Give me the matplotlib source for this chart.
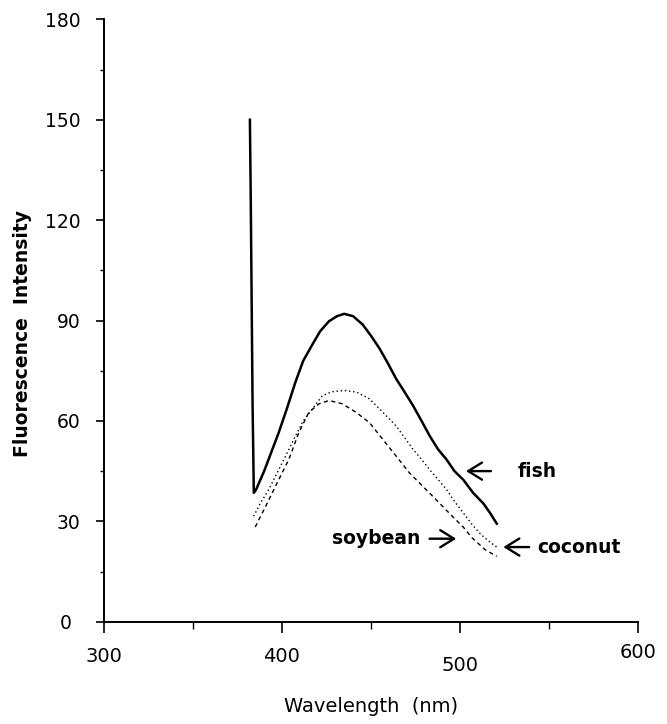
import matplotlib
matplotlib.use("Agg")
import matplotlib.pyplot as plt
from matplotlib.ticker import MultipleLocator
from matplotlib.transforms import ScaledTranslation

# ---- data ----
fish_wl = [382.0, 382.5, 383.0, 383.5, 384.2, 385.5, 390.0, 398.2, 403.0, 407.6,
           412.0, 417.0, 421.5, 426.5, 431.0, 435.0, 440.0, 445.4, 450.0, 454.8,
           459.5, 464.2, 469.0, 473.7, 478.5, 483.1, 487.8, 492.5, 497.0, 502.0,
           507.5, 513.3, 517.0, 520.8]
fish_int = [150, 125, 95, 65, 38.5, 39.5, 45, 56.5, 64, 71.6,
            78, 82.7, 86.8, 89.8, 91.3, 92, 91.3, 88.8, 85.5, 81.7,
            77.3, 72.6, 68.6, 64.6, 60, 55.5, 51.5, 48.5, 45, 42.4,
            38.5, 35.3, 32.5, 29.3]

coconut_wl = [384.1, 388.0, 392.5, 398.2, 403.0, 407.6, 412.0, 417.0, 422.7, 428.0,
              435.0, 442.0, 449.2, 456.7, 464.2, 469.0, 473.7, 478.5, 483.1, 487.8,
              492.5, 497.0, 502.0, 507.0, 512.0, 517.0, 521.5]
coconut_int = [31.5, 35.5, 39.4, 45.4, 50.5, 55.5, 60, 63.5, 67.5, 68.7,
               69.1, 68.6, 66.6, 62.6, 58.5, 55, 51.5, 48.5, 45.4, 42.5,
               39.5, 36, 32.5, 29, 26, 23.8, 22]

soybean_wl = [385.0, 388.0, 390.7, 396.3, 403.9, 409.5, 415.2, 420.8, 426.5, 434.0,
              441.6, 449.2, 456.7, 464.2, 471.8, 479.3, 486.8, 494.3, 501.9, 507.0,
              514.3, 520.8]
soybean_int = [28.3, 31.5, 34.3, 40.4, 48.5, 56.5, 62.6, 65.1, 66.1, 65.1,
               62.6, 59.5, 54.5, 49.5, 44.4, 40.4, 36.4, 32.3, 28.3, 25,
               21.5, 19.5]

x_ticks = [300, 400, 500, 600]
y_ticks = [0, 30, 60, 90, 120, 150, 180]

plt.rcParams['font.family'] = ['DejaVu Sans']

fig = plt.figure(figsize=(6.67, 7.24), dpi=100)
ax = fig.add_axes([0.156, 0.1413, 0.800, 0.832])

ax.plot(fish_wl, fish_int, color='black', lw=1.8, solid_joinstyle='round')
ax.plot(coconut_wl, coconut_int, color='black', lw=1.0, linestyle=(0, (1, 2)))
ax.plot(soybean_wl, soybean_int, color='black', lw=1.0, linestyle=(0, (3, 2.5)))

ax.set_xlim(300, 600)
ax.set_ylim(0, 180)
ax.set_xticks(x_ticks)
ax.set_yticks(y_ticks)
ax.xaxis.set_minor_locator(MultipleLocator(50))
ax.yaxis.set_minor_locator(MultipleLocator(15))
for s in ['top', 'right']:
    ax.spines[s].set_visible(False)
for s in ['left', 'bottom']:
    ax.spines[s].set_linewidth(1.4)

ax.tick_params(axis='x', which='major', direction='out', length=8, width=1.2, pad=10, labelsize=14)
ax.tick_params(axis='x', which='minor', direction='out', length=5, width=1.0)
ax.tick_params(axis='y', which='major', direction='out', length=6, width=1.2, pad=11, labelsize=13.5)
ax.tick_params(axis='y', which='minor', direction='out', length=3, width=1.0)

# slight stagger of tick labels as in the reference
shift_x = {'500': -7, '600': 3}
for lab in ax.get_xticklabels():
    dy = shift_x.get(lab.get_text(), 0)
    if dy:
        lab.set_transform(lab.get_transform() + ScaledTranslation(0, dy/72, fig.dpi_scale_trans))
for lab in ax.get_yticklabels():
    if lab.get_text() == '0':
        lab.set_transform(lab.get_transform() + ScaledTranslation(-6/72, 0, fig.dpi_scale_trans))

ax.set_xlabel('Wavelength  (nm)', fontsize=14)
ax.xaxis.set_label_coords(0.5, -0.125)
ax.set_ylabel('Fluorescence  Intensity', fontsize=13.5, fontweight='bold')
ax.yaxis.set_label_coords(-0.135, 0.478)

arrow = dict(arrowstyle='->, head_length=0.45, head_width=0.28', color='black',
             lw=1.7, mutation_scale=22, shrinkA=0, shrinkB=0)
ax.annotate('', xy=(503.5, 45), xytext=(517.5, 45), arrowprops=arrow)
ax.text(532.5, 45, 'fish', fontsize=13.5, fontweight='bold', va='center', ha='left')
ax.text(478, 24.8, 'soybean', fontsize=13.5, fontweight='bold', va='center', ha='right')
ax.annotate('', xy=(498, 24.8), xytext=(483, 24.8), arrowprops=arrow)
ax.annotate('', xy=(524.5, 22.3), xytext=(539, 22.3), arrowprops=arrow)
ax.text(543.8, 22.3, 'coconut', fontsize=13.5, fontweight='bold', va='center', ha='left')

fig.savefig('out.png', dpi=100)
